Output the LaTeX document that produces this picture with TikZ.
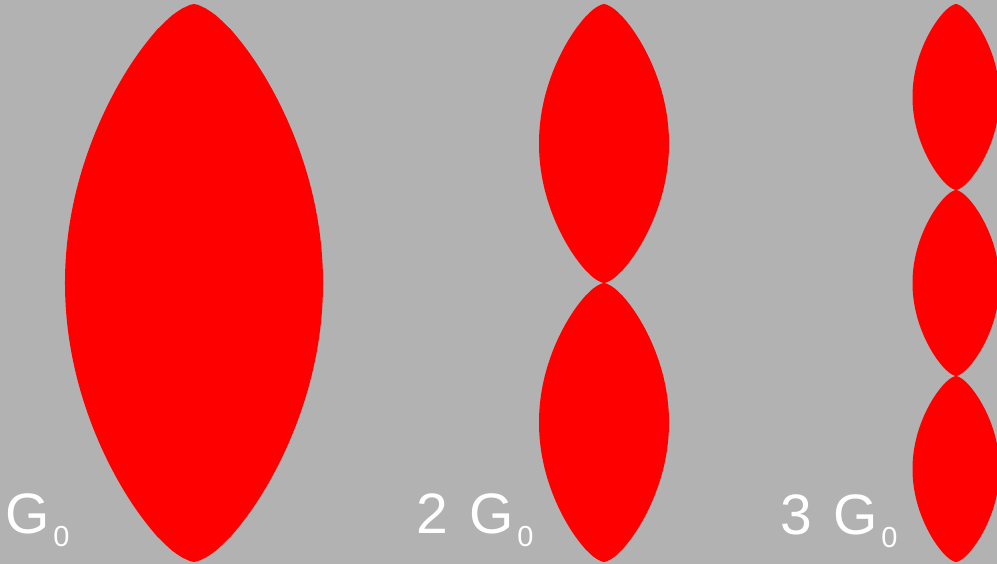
\documentclass[tikz,border=0pt]{standalone}
\usepackage{fontspec}
\setmainfont{Liberation Sans}
\definecolor{bggray}{RGB}{178,178,178}
\definecolor{lensred}{RGB}{255,0,0}
\tikzset{
  lensfill/.style={fill=lensred},
  lbl/.style={text=white, anchor=base west, inner sep=0pt, outer sep=0pt, font=\fontsize{57}{57}\selectfont}
}
\newcommand\lensshape[4]{% cx, halfwidth, ytop, ybottom
  \fill[lensfill] (#1,#3)
    -- plot[domain=0.3:179.7, samples=160, variable=\t] ({#1+#2*exp(0.65*ln(sin(\t)))},{#3+(#4-#3)*(\t/180)})
    -- (#1,#4)
    -- plot[domain=179.7:0.3, samples=160, variable=\t] ({#1-#2*exp(0.65*ln(sin(\t)))},{#3+(#4-#3)*(\t/180)})
    -- cycle;}
\newcommand\subz{\kern3.5pt{\fontsize{29}{29}\selectfont\raisebox{-13pt}{0}}}
\begin{document}
\begin{tikzpicture}[x=1pt,y=-1pt]
  \fill[bggray] (0,0) rectangle (997,564);
  \useasboundingbox (0,0) rectangle (997,564);
  \begin{scope}
    \clip (0,0) rectangle (997,564);
    \lensshape{194}{129}{4}{562}
    \lensshape{604}{65}{4}{283}
    \lensshape{604}{65}{283}{562}
    \lensshape{956}{43.5}{4}{190}
    \lensshape{956}{43.5}{190}{376}
    \lensshape{956}{43.5}{376}{562}
  \end{scope}
  \node[lbl] (g1) at (5.5,533) {G\subz};
  \node[lbl] (g2) at (416,533) {2\kern6pt\ G\subz};
  \node[lbl] (g3) at (780,534) {3\kern6pt\ G\subz};
\end{tikzpicture}
\end{document}
